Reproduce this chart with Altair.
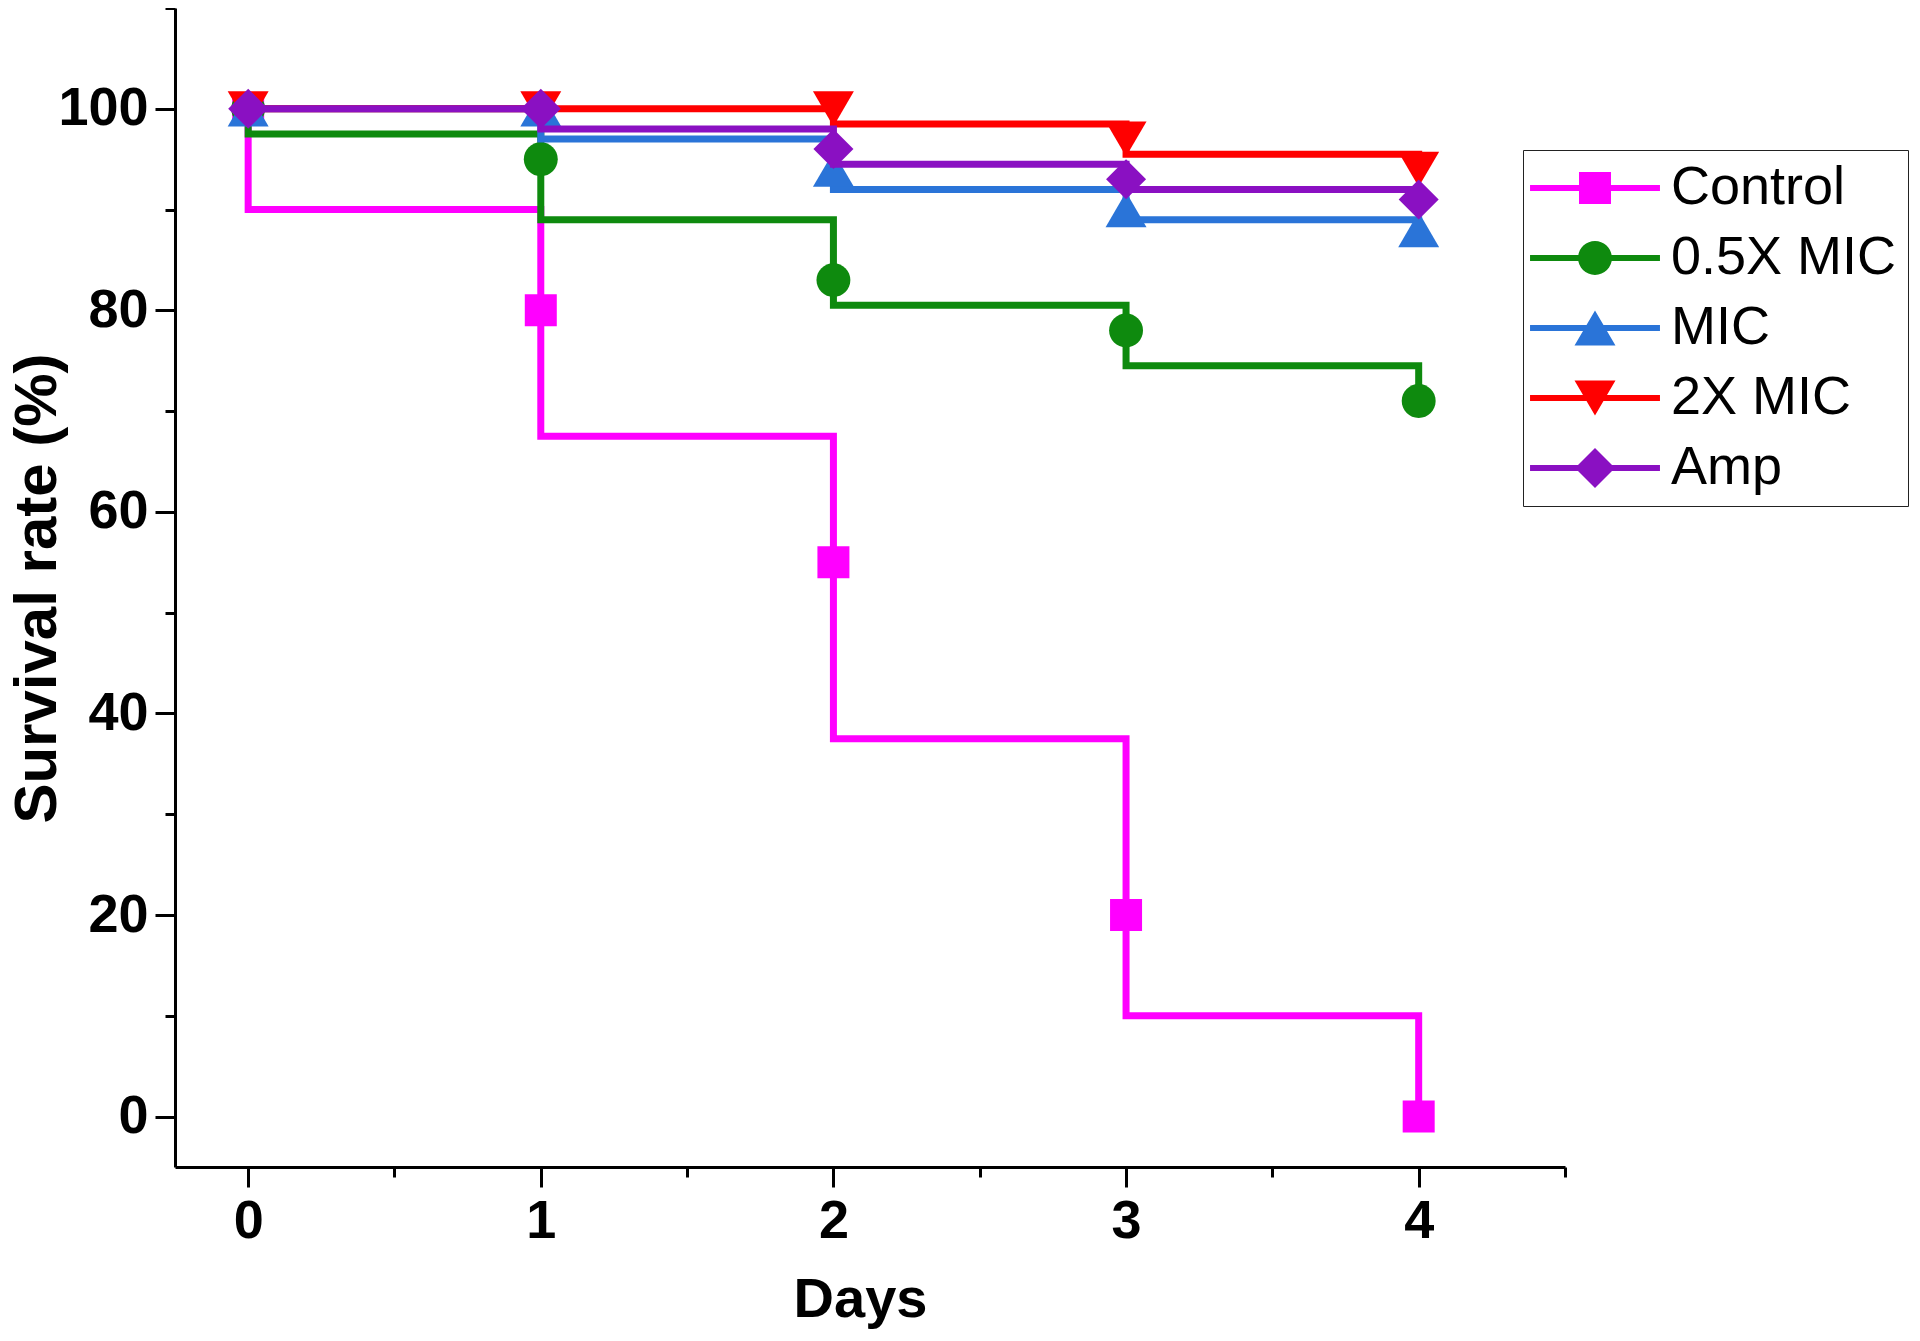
import altair as alt
import pandas as pd

series = ["Control", "0.5X MIC", "MIC", "2X MIC", "Amp"]
colors = ["#ff00ff", "#0e8a0e", "#2a74d8", "#ff0000", "#8a10c2"]
days = [0, 1, 2, 3, 4]

# marker values (survival %) at each day
control_pts = [100, 80, 55, 20, 0]
half_pts = [100, 95, 83, 78, 71]
mic_pts = [100, 100, 94, 90, 88]
two_pts = [100, 100, 100, 97, 94]
amp_pts = [100, 100, 96, 93, 91]

# step-curve levels held after each day (days 0..3)
control_lvl = [90, 67.5, 37.5, 10]
half_lvl = [97.5, 89, 80.5, 74.5]
mic_lvl = [100, 97, 92, 89]
two_lvl = [100, 100, 98.5, 95.5]
amp_lvl = [100, 98, 94.5, 92]

pts_all = [control_pts, half_pts, mic_pts, two_pts, amp_pts]
lvl_all = [control_lvl, half_lvl, mic_lvl, two_lvl, amp_lvl]

line_rows, pt_rows = [], []
for s, pts, lvl in zip(series, pts_all, lvl_all):
    seq = 0
    line_rows.append({"series": s, "day": days[0], "value": pts[0], "seq": seq})
    for d, v in zip(days[:4], lvl):
        seq += 1
        line_rows.append({"series": s, "day": d, "value": v, "seq": seq})
    seq += 1
    line_rows.append({"series": s, "day": days[4], "value": pts[4], "seq": seq})
    for d, v in zip(days, pts):
        pt_rows.append({"series": s, "day": d, "value": v})

lines_df = pd.DataFrame(line_rows)
pts_df = pd.DataFrame(pt_rows)

marker_paths = [
    "M-1,-1L1,-1L1,1L-1,1Z",
    "M-1.06,0A1.06,1.06,0,1,1,1.06,0A1.06,1.06,0,1,1,-1.06,0Z",
    "M0,-1.1L1.28,1.1L-1.28,1.1Z",
    "M-1.28,-1.1L1.28,-1.1L0,1.1Z",
    "M0,-1.25L1.25,0L0,1.25L-1.25,0Z",
]
bar = "M-4.06,-0.19L4.06,-0.19L4.06,0.19L-4.06,0.19Z"
legend_paths = [bar + p for p in marker_paths]

FONT = "Liberation Sans"

xscale = alt.Scale(domain=[-0.25, 4.5], nice=False, zero=False)
yscale = alt.Scale(domain=[-5, 110], nice=False, zero=False)

xaxis = alt.Axis(
    values=[0, 0.5, 1, 1.5, 2, 2.5, 3, 3.5, 4, 4.5],
    labelExpr="datum.value % 1 === 0 ? format(datum.value, 'd') : ''",
    tickSize={"condition": {"test": "datum.value % 1 === 0", "value": 20}, "value": 10},
    title="Days", titleX=685, titleY=149, titleBaseline="alphabetic",
    grid=False, labelPadding=7,
)
yaxis = alt.Axis(
    values=[0, 10, 20, 30, 40, 50, 60, 70, 80, 90, 100, 110],
    labelExpr="datum.value % 20 === 0 ? format(datum.value, 'd') : ''",
    tickSize={"condition": {"test": "datum.value % 20 === 0", "value": 20}, "value": 10},
    title="Survival rate (%)", titleX=-138, titleY=580, titleAngle=270,
    titleAlign="center", titleBaseline="middle", titleFontSize=60,
    grid=False, labelPadding=7,
)

X = alt.X("day:Q", scale=xscale, axis=xaxis)
Y = alt.Y("value:Q", scale=yscale, axis=yaxis)

layers = []
for s, c, p in zip(series, colors, marker_paths):
    layers.append(
        alt.Chart(lines_df).transform_filter(alt.datum.series == s).mark_line(
            interpolate="step-after", strokeWidth=7, color=c
        ).encode(x=X, y=Y, order="seq:Q")
    )
    layers.append(
        alt.Chart(pts_df).transform_filter(alt.datum.series == s).mark_point(
            filled=True, opacity=1, size=1024, strokeWidth=0, shape=p, color=c
        ).encode(x=X, y=Y)
    )

legend_cfg = dict(
    title=None, orient="none", legendX=1348, legendY=142,
    symbolSize=1024, symbolOffset=34, labelOffset=49,
    labelFont=FONT, labelFontSize=54, labelColor="black",
    strokeColor="#222222", fillColor="white", padding=11,
    rowPadding=16, symbolStrokeWidth=0, symbolOpacity=1, labelLimit=400,
)

legend_layer = alt.Chart(pts_df).transform_filter("false").mark_point(
    filled=True, opacity=1, size=1024, strokeWidth=0
).encode(
    x=X, y=Y,
    color=alt.Color("series:N", scale=alt.Scale(domain=series, range=colors),
                    legend=alt.Legend(**legend_cfg)),
    shape=alt.Shape("series:N", scale=alt.Scale(domain=series, range=legend_paths),
                    legend=alt.Legend(**legend_cfg)),
)

chart = alt.layer(*layers, legend_layer).properties(
    width=1390, height=1159,
    autosize=alt.AutoSizeParams(type="none"),
    padding={"left": 167, "top": 0, "right": 347, "bottom": 166},
).configure_view(stroke=None).configure_axis(
    domainColor="black", domainWidth=3, tickColor="black", tickWidth=3,
    labelFont=FONT, labelFontWeight="bold", labelFontSize=54, labelColor="black",
    titleFont=FONT, titleFontWeight="bold", titleFontSize=56, titleColor="black",
)

chart.save("out.html", embed_options={"renderer": "svg", "actions": False})
